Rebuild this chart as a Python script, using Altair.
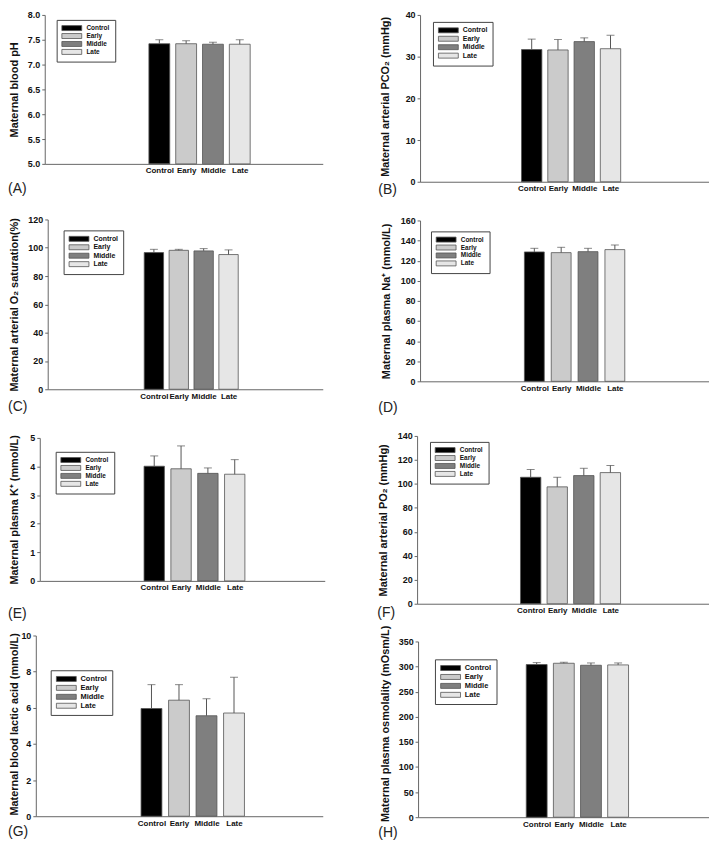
import altair as alt
import pandas as pd

# ---------------- data ----------------
groups = ["Control", "Early", "Middle", "Late"]
bar_colors = ["#000000", "#cbcbcb", "#7f7f7f", "#e6e6e6"]

ph_mean = [7.42, 7.42, 7.41, 7.41]
ph_err = [0.08, 0.06, 0.04, 0.09]
pco2_mean = [31.7, 31.6, 33.6, 31.9]
pco2_err = [2.5, 2.5, 0.9, 3.2]
o2sat_mean = [96.6, 98.2, 97.8, 95.2]
o2sat_err = [2.3, 0.7, 1.6, 3.3]
na_mean = [128.7, 128.0, 129.0, 131.0]
na_err = [3.6, 5.3, 3.3, 4.6]
k_mean = [4.01, 3.92, 3.76, 3.73]
k_err = [0.36, 0.80, 0.19, 0.51]
po2_mean = [105.5, 97.5, 106.9, 109.4]
po2_err = [6.5, 8.0, 6.1, 6.0]
lactic_mean = [5.96, 6.42, 5.56, 5.71]
lactic_err = [1.32, 0.86, 0.94, 1.98]
osm_mean = [304.0, 306.6, 302.6, 303.3]
osm_err = [3.9, 2.0, 4.6, 3.9]

panel_letters = ["(A)", "(B)", "(C)", "(D)", "(E)", "(F)", "(G)", "(H)"]
y_titles = [
    "Maternal blood pH",
    "Maternal arterial PCO\u2082 (mmHg)",
    "Maternal arterial  O\u2082 saturation(%)",
    "Maternal plasma Na\u207a (mmol/L)",
    "Maternal plasma K\u207a (mmol/L)",
    "Maternal arterial  PO\u2082 (mmHg)",
    "Maternal blood lactic acid (mmol/L)",
    "Maternal plasma osmolality (mOsm/L)",
]
y_ticks = [
    [5.0, 5.5, 6.0, 6.5, 7.0, 7.5, 8.0],
    [0, 10, 20, 30, 40],
    [0, 20, 40, 60, 80, 100, 120],
    [0, 20, 40, 60, 80, 100, 120, 140, 160],
    [0, 1, 2, 3, 4, 5],
    [0, 20, 40, 60, 80, 100, 120, 140],
    [0, 2, 4, 6, 8, 10],
    [0, 50, 100, 150, 200, 250, 300, 350],
]
y_formats = [".1f", "d", "d", "d", "d", "d", "d", "d"]
means = [ph_mean, pco2_mean, o2sat_mean, na_mean, k_mean, po2_mean, lactic_mean, osm_mean]
errs = [ph_err, pco2_err, o2sat_err, na_err, k_err, po2_err, lactic_err, osm_err]

# ---------------- layout (page pixel geometry) ----------------
CW, CH = 353, 207
geom = [
    dict(ax=45, ar=325, top=11, bot=161, L=104, st=28.0, bw=21.0, tx=14.5, ty=0, lx=8, ly=186, gx=57, gy=16, fs=6.5, rp=-1),
    dict(ax=423, ar=714, top=11, bot=179, L=101, st=27.4, bw=20.5, tx=388.5, ty=-2, lx=381, ly=187, gx=436, gy=18, fs=7.0, rp=-0.5),
    dict(ax=48, ar=325, top=217, bot=388, L=96, st=26.0, bw=19.5, tx=14.5, ty=0, lx=8, ly=406, gx=64, gy=228, fs=7.0, rp=-0.5),
    dict(ax=423, ar=714, top=218, bot=380, L=104, st=28.0, bw=20.0, tx=389, ty=0, lx=381, ly=407, gx=434, gy=229, fs=6.5, rp=-1),
    dict(ax=40, ar=327, top=437, bot=581, L=104, st=28.0, bw=20.5, tx=14.5, ty=0, lx=8, ly=614, gx=56, gy=451, fs=6.5, rp=-1),
    dict(ax=420, ar=714, top=435, bot=604, L=103, st=27.7, bw=20.5, tx=386.5, ty=0, lx=380, ly=613, gx=433, gy=441, fs=6.5, rp=-1),
    dict(ax=36, ar=325, top=636, bot=818, L=105, st=28.7, bw=21.0, tx=14.5, ty=-2, lx=8, ly=834, gx=51, gy=671, fs=7.5, rp=0),
    dict(ax=421, ar=714, top=642, bot=819, L=108, st=28.3, bw=21.0, tx=388.5, ty=-6, lx=381, ly=835, gx=438, gy=660, fs=7.5, rp=0),
]

FONT = "Liberation Sans"
GREY = "#666666"
label_expr = "[" + ",".join("'%s'" % g for g in groups) + "][datum.value]"


def make_panel(i):
    g = geom[i]
    x0 = 8 + (i % 2) * CW
    y0 = 8 + (i // 2) * CH
    xl, xr = g["ax"] - x0, g["ar"] - x0
    yt, yb = g["top"] - y0, g["bot"] - y0
    R = xr - xl
    d0 = -(g["L"] + g["bw"] / 2) / g["st"]
    d1 = d0 + R / g["st"]

    lo, hi = y_ticks[i][0], y_ticks[i][-1]
    df = pd.DataFrame({
        "group": groups,
        "pos": list(range(len(groups))),
        "mean": means[i],
        "upper": [m + e for m, e in zip(means[i], errs[i])],
        "base": [lo] * len(groups),
    })

    xscale = alt.Scale(domain=[d0, d1], range=[xl, xr], nice=False, zero=False)
    xaxis = alt.Axis(title=None, values=list(range(len(groups))), labelExpr=label_expr,
                     labelAngle=0, ticks=False, grid=False, offset=-(CH - yb),
                     labelFontSize=8, labelFontWeight="bold", labelFont=FONT,
                     labelColor="#111", labelPadding=3, domainColor=GREY,
                     labelOverlap=False)
    yscale = alt.Scale(domain=[lo, hi], range=[yb, yt], zero=False, nice=False)
    yaxis = alt.Axis(
        values=y_ticks[i], format=y_formats[i], title=y_titles[i], offset=-xl,
        tickSize=3, tickColor=GREY, domainColor=GREY, labelPadding=2,
        labelFontSize=9, labelFontWeight="bold", labelFont=FONT, labelColor="#111",
        titleFont=FONT, titleFontSize=11, titleFontWeight="bold", titleColor="#111",
        titleX=(g["tx"] - x0) - xl, titleY=(yt + yb) / 2 + g["ty"],
        titleBaseline="middle", titleAngle=270,
        grid=False,
    )

    legend = alt.Legend(
        orient="none", legendX=g["gx"] - x0, legendY=g["gy"] - y0, title=None,
        symbolType="M-4,-1H4V1H-4Z", symbolSize=25, symbolOffset=7,
        symbolStrokeColor="#555555", symbolStrokeWidth=0.8, symbolOpacity=1,
        labelOffset=18 - g["fs"], labelFontSize=g["fs"], labelFontWeight="bold",
        labelFont=FONT, labelColor="#111", labelExpr="datum.label + '     '",
        strokeColor="#444444", fillColor="white", padding=5, rowPadding=g["rp"],
    )

    bars = alt.Chart(df).mark_bar(stroke="#555555", strokeWidth=0.8, opacity=1,
                                  width=g["bw"]).encode(
        x=alt.X("pos:Q", scale=xscale, axis=xaxis),
        y=alt.Y("mean:Q", scale=yscale, axis=yaxis),
        y2="base:Q",
        color=alt.Color("group:N", sort=groups,
                        scale=alt.Scale(domain=groups, range=bar_colors),
                        legend=legend),
    )
    rule = alt.Chart(df).mark_rule(color="#555555", strokeWidth=1).encode(
        x=alt.X("pos:Q", scale=xscale, axis=xaxis),
        y=alt.Y("mean:Q", scale=yscale, axis=yaxis),
        y2="upper:Q",
    )
    cap = alt.Chart(df).mark_tick(color="#555555", size=8, thickness=1,
                                  orient="horizontal").encode(
        x=alt.X("pos:Q", scale=xscale, axis=xaxis),
        y=alt.Y("upper:Q", scale=yscale, axis=yaxis),
    )
    label = alt.Chart(pd.DataFrame({"t": [panel_letters[i]]})).mark_text(
        align="left", baseline="middle", fontSize=14, font=FONT, color="#222"
    ).encode(
        x=alt.value(g["lx"] - x0),
        y=alt.value(g["ly"] - y0),
        text="t:N",
    )
    return alt.layer(bars, rule, cap, label).properties(width=CW, height=CH)


panels = [make_panel(i) for i in range(8)]

chart = (
    alt.concat(*panels, columns=2, spacing=0, bounds="flush")
    .resolve_scale(color="independent", x="independent", y="independent")
    .resolve_legend(color="independent")
    .properties(padding=0)
    .configure_view(stroke=None)
)

chart.save("out.html", embed_options={"renderer": "svg", "actions": False})
